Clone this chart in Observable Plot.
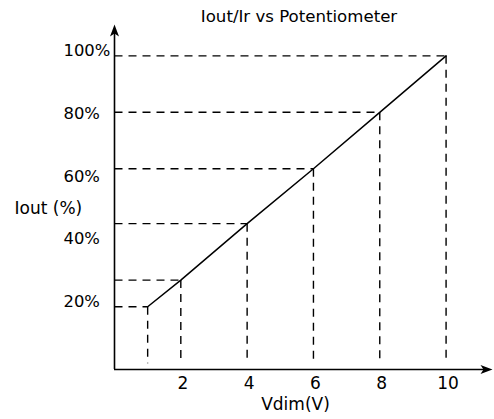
<!DOCTYPE html>
<html>
<head>
<meta charset="utf-8">
<script src="https://cdn.jsdelivr.net/npm/d3@7"></script>
<script src="https://cdn.jsdelivr.net/npm/@observablehq/plot@0.6"></script>
<style>
  html, body { margin: 0; padding: 0; background: #fff; }
  #wrap { position: relative; width: 494px; height: 419px; }
  #title { position: absolute; top: 7px; left: 52px; width: 494px; text-align: center;
           font: 16.6px "DejaVu Sans", Verdana, sans-serif; color: #000; line-height: 20px; }
</style>
</head>
<body>
<div id="wrap"><div id="title"></div></div>
<script>
const titleText = "Iout/Ir vs Potentiometer";
const xLabel = "Vdim(V)";
const yLabel = "Iout (%)";
const vdim = [1, 2, 4, 6, 8, 10];
const iout = [20, 28.5, 46.5, 64, 82, 100];
const xTicks = [2, 4, 6, 8, 10];
const yTicks = [20, 40, 60, 80, 100];
const xMax = 11.4;
const yMax = 110;

const data = vdim.map((v, i) => ({x: v, y: iout[i]}));

const arrowUp = {draw(ctx) { ctx.moveTo(0, 0); ctx.lineTo(-4.5, 12); ctx.lineTo(0, 9); ctx.lineTo(4.5, 12); ctx.closePath(); }};
const arrowRight = {draw(ctx) { ctx.moveTo(0, 0); ctx.lineTo(-12, -4.5); ctx.lineTo(-9, 0); ctx.lineTo(-12, 4.5); ctx.closePath(); }};

document.getElementById("title").textContent = titleText;

const fs = 17;
const chart = Plot.plot({
  width: 494,
  height: 419,
  marginLeft: 114,
  marginRight: 2,
  marginTop: 24,
  marginBottom: 50,
  style: {fontFamily: "'DejaVu Sans', Verdana, sans-serif", fontSize: fs + "px", color: "#000", background: "transparent"},
  x: {domain: [0, xMax]},
  y: {domain: [0, yMax]},
  marks: [
    Plot.link(data, {x1: 0, x2: "x", y1: "y", y2: "y", stroke: "#000", strokeWidth: 1.4, strokeDasharray: "8,6"}),
    Plot.link(data, {x1: "x", x2: "x", y1: "y", y2: 2, stroke: "#000", strokeWidth: 1.4, strokeDasharray: "8,6"}),
    Plot.line(data, {x: "x", y: "y", stroke: "#000", strokeWidth: 1.5}),
    Plot.ruleX([0], {y1: 0, y2: yMax - 2, stroke: "#000", strokeWidth: 1.6}),
    Plot.ruleY([0], {x1: 0, x2: xMax - 0.2, stroke: "#000", strokeWidth: 1.6}),
    Plot.dot([{x: 0, y: yMax}], {x: "x", y: "y", symbol: arrowUp, fill: "#000", stroke: null}),
    Plot.dot([{x: xMax, y: 0}], {x: "x", y: "y", symbol: arrowRight, fill: "#000", stroke: null}),
    Plot.axisX({ticks: xTicks, tickSize: 0, tickPadding: 7, dx: 2, label: null, fontSize: fs}),
    Plot.axisY({ticks: yTicks, tickSize: 0, tickPadding: 51, textAnchor: "start", dy: -5, tickFormat: d => d + "%", label: null, fontSize: 16.4}),
    Plot.text([yLabel], {frameAnchor: "left", dx: -100, dy: 12, textAnchor: "start", fontSize: fs}),
    Plot.text([xLabel], {frameAnchor: "bottom", dx: -8, dy: 40, fontSize: fs})
  ]
});
document.getElementById("wrap").appendChild(chart);
</script>
</body>
</html>
